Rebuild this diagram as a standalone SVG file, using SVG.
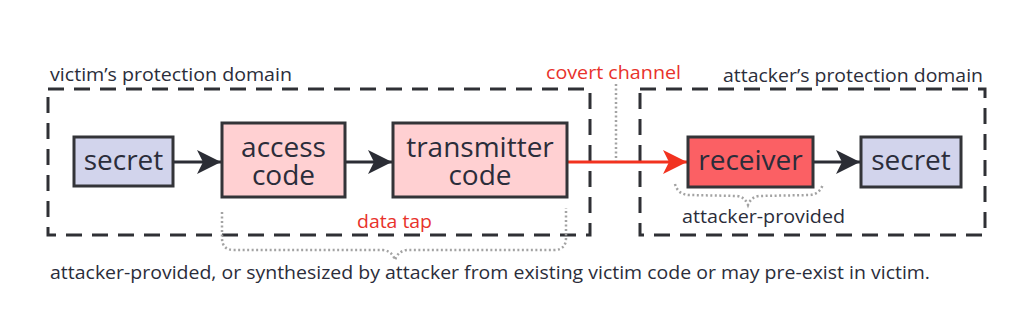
<svg xmlns="http://www.w3.org/2000/svg" width="1016" height="326" viewBox="0 0 1016 326">
<style>
.dom{fill:none;stroke:#2f3035;stroke-width:3;stroke-dasharray:16 10}
.box{stroke:#333438;stroke-width:3}
.sec{fill:#d2d4ec}
.pink{fill:#ffd0d2}
.rec{fill:#fb6064}
.bt{font-family:"Open Sans","Liberation Sans",sans-serif;font-size:28px;fill:#2b2d3a;text-anchor:middle}
.lb{font-family:"Open Sans","Liberation Sans",sans-serif;font-size:18px;fill:#2b2d3a}
.red{fill:#e8322b}
.dot{fill:none;stroke:#a3a3a3;stroke-width:2.5;stroke-dasharray:2 2.5}
.arr{stroke:#2b2d35;stroke-width:3;fill:none}
.rarr{stroke:#f2321f;stroke-width:3;fill:none}
</style>
<defs>
<marker id="ah" markerUnits="userSpaceOnUse" markerWidth="26" markerHeight="26" viewBox="-24 -13 26 26" refX="0" refY="0" orient="auto">
<path d="M0,0 L-24,-12 L-18,0 L-24,12 Z" fill="#2b2d35"/>
</marker>
<marker id="rah" markerUnits="userSpaceOnUse" markerWidth="26" markerHeight="26" viewBox="-24 -13 26 26" refX="0" refY="0" orient="auto">
<path d="M0,0 L-24,-12 L-18,0 L-24,12 Z" fill="#f2321f"/>
</marker>
</defs>
<rect width="1016" height="326" fill="#ffffff"/>

<g id="victim-domain">
<rect class="dom" x="48" y="89" width="542" height="146"/>
<text class="lb" x="50" y="81" textLength="242" lengthAdjust="spacingAndGlyphs">victim’s protection domain</text>
</g>
<g id="attacker-domain">
<rect class="dom" x="640" y="89" width="345" height="146"/>
<text class="lb" x="723" y="82" textLength="260" lengthAdjust="spacingAndGlyphs">attacker’s protection domain</text>
</g>

<g id="connectors">
<line class="arr" x1="173" y1="162" x2="221" y2="162" marker-end="url(#ah)"/>
<line class="arr" x1="345" y1="162" x2="392" y2="162" marker-end="url(#ah)"/>
<line class="arr" x1="813" y1="162" x2="860" y2="162" marker-end="url(#ah)"/>
<line class="rarr" x1="567" y1="162" x2="687" y2="162" marker-end="url(#rah)"/>
<line class="dot" x1="616" y1="84" x2="616" y2="161"/>
<text class="lb red" x="546" y="79" textLength="135" lengthAdjust="spacingAndGlyphs">covert channel</text>
<path class="dot" d="M222,212 L222,238 Q222,250 234,250 L383,250 Q392,251 395,260 Q398,251 407,250 L554,250 Q566,250 566,238 L566,208"/>
<text class="lb red" x="357" y="228" textLength="75" lengthAdjust="spacingAndGlyphs">data tap</text>
<path class="dot" d="M675,184 Q678,195 690,195 L737,196 Q745,197 748,205 Q751,197 759,196 L810,195 Q820,194 823,184"/>
<text class="lb" x="682" y="223" font-size="17" textLength="163" lengthAdjust="spacingAndGlyphs">attacker-provided</text>
</g>

<g id="secret1">
<rect class="box sec" x="74" y="137" width="99" height="49"/>
<text class="bt" x="123.5" y="170">secret</text>
</g>
<g id="access-code">
<rect class="box pink" x="222" y="123" width="123" height="74"/>
<text class="bt" x="283.5" y="157">access<tspan x="283.5" dy="28">code</tspan></text>
</g>
<g id="transmitter-code">
<rect class="box pink" x="393" y="123" width="174" height="74"/>
<text class="bt" x="480" y="157">transmitter<tspan x="480" dy="28">code</tspan></text>
</g>
<g id="receiver">
<rect class="box rec" x="688" y="137" width="125" height="50"/>
<text class="bt" x="750.5" y="170">receiver</text>
</g>
<g id="secret2">
<rect class="box sec" x="861" y="137" width="100" height="50"/>
<text class="bt" x="911" y="170">secret</text>
</g>

<text class="lb" x="50" y="279" textLength="880" lengthAdjust="spacingAndGlyphs">attacker-provided, or synthesized by attacker from existing victim code or may pre-exist in victim.</text>
</svg>
